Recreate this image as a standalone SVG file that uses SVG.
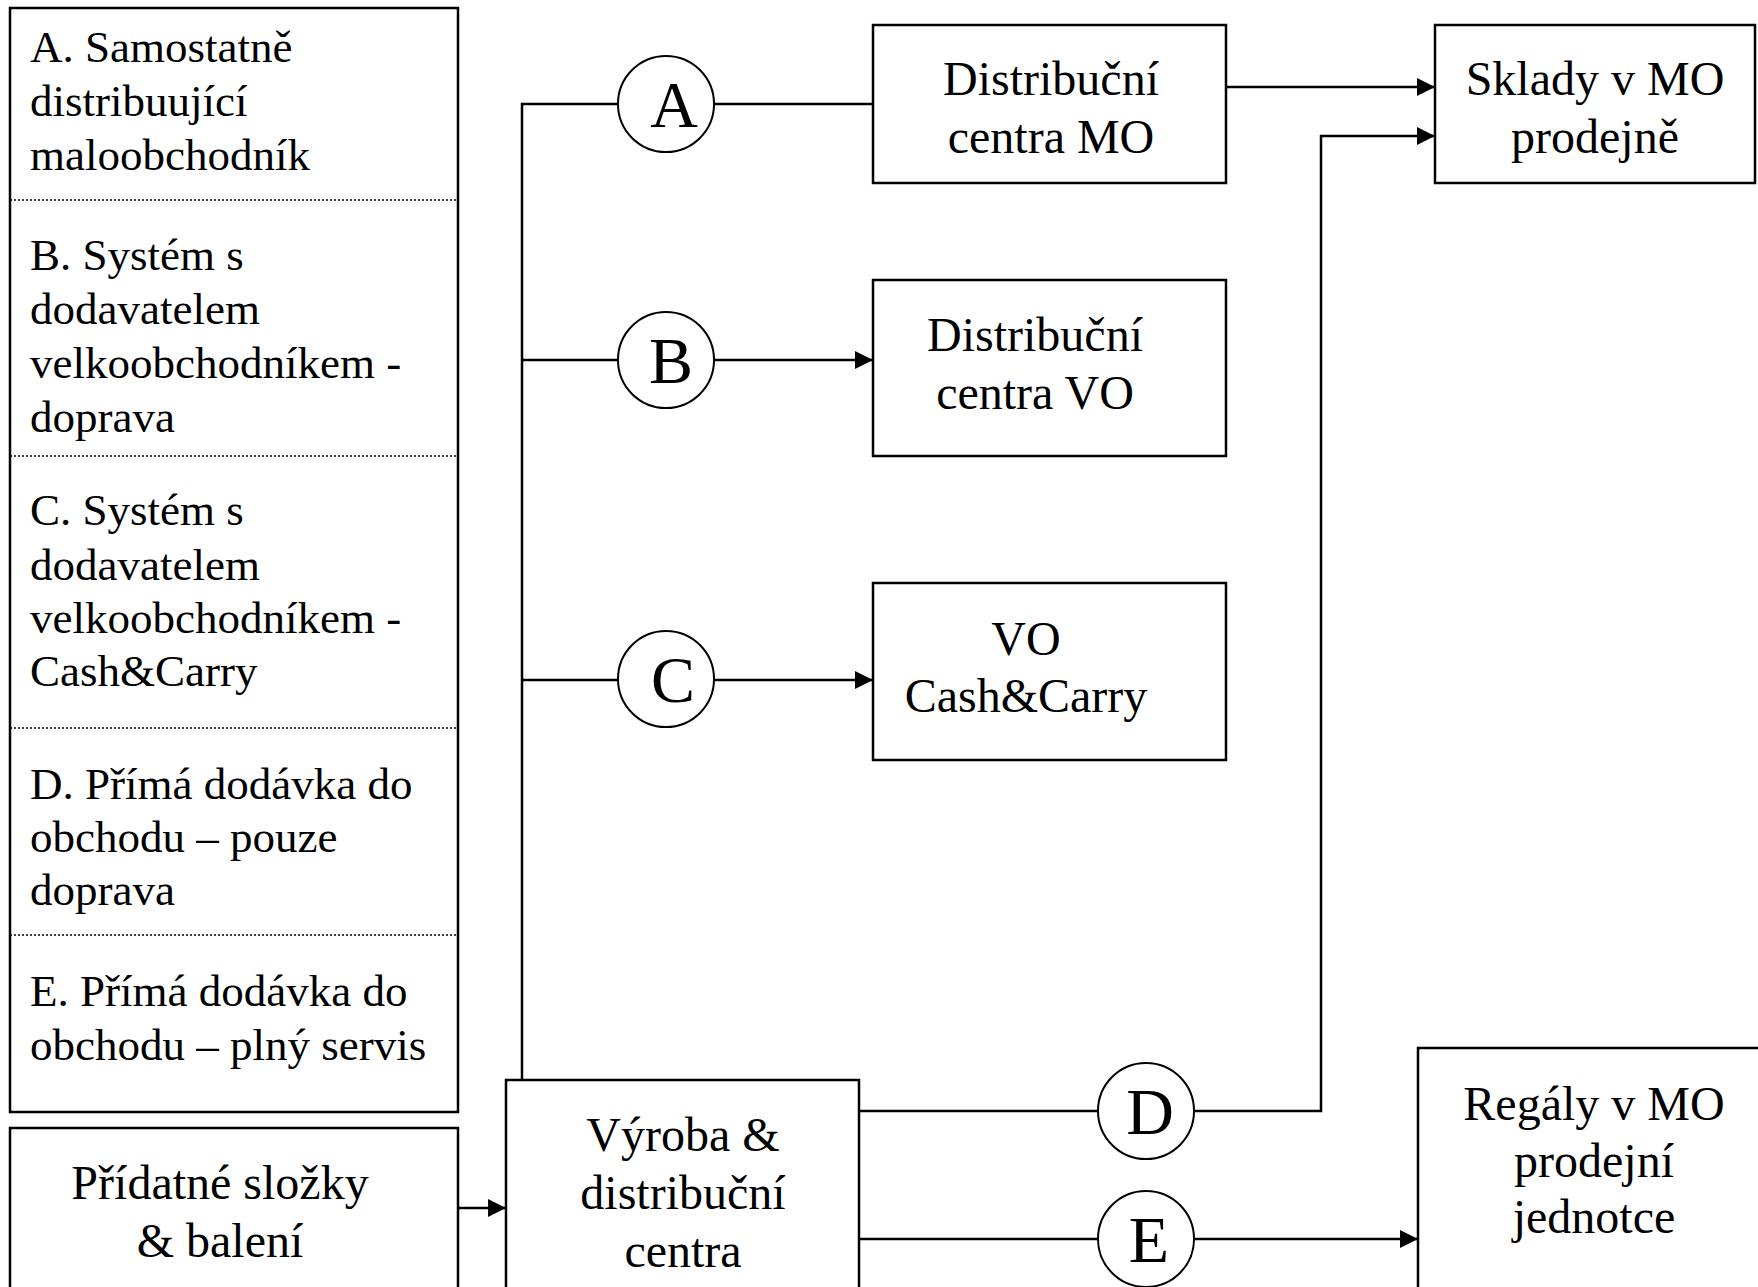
<svg xmlns="http://www.w3.org/2000/svg" width="1758" height="1287" viewBox="0 0 1758 1287">
<defs>
<marker id="arr" viewBox="0 0 18 18" refX="18" refY="9" markerWidth="18" markerHeight="18" markerUnits="userSpaceOnUse" orient="auto">
<path d="M0,0 L18,9 L0,18 Z" fill="#000"/>
</marker>
<style>
text{font-family:"Liberation Serif","Times New Roman",serif;fill:#000}
.lt{font-size:45px}
.bt{font-size:48px;text-anchor:middle}
.ct{font-size:66px;text-anchor:middle}
.box{fill:#fff;stroke:#000;stroke-width:2.5}
.circ{fill:#fff;stroke:#000;stroke-width:2}
.sep{stroke:#000;stroke-width:1.5;stroke-dasharray:2 2;fill:none}
.ln{stroke:#000;stroke-width:2.5;fill:none}
.ar{stroke:#000;stroke-width:2.5;fill:none;marker-end:url(#arr)}
</style>
</defs>
<rect width="1758" height="1287" fill="#fff"/>

<g id="connectors">
<polyline class="ln" points="618,104 522,104 522,1080"/>
<line class="ln" x1="522" y1="360" x2="618" y2="360"/>
<line class="ln" x1="522" y1="680" x2="618" y2="680"/>
<line class="ln" x1="714" y1="104" x2="873" y2="104"/>
<line class="ar" x1="714" y1="360" x2="873" y2="360"/>
<line class="ar" x1="714" y1="680" x2="873" y2="680"/>
<line class="ar" x1="1226" y1="87" x2="1435" y2="87"/>
<line class="ln" x1="859" y1="1111" x2="1098" y2="1111"/>
<polyline class="ar" points="1194,1111 1321,1111 1321,136 1435,136"/>
<line class="ln" x1="859" y1="1239" x2="1098" y2="1239"/>
<line class="ar" x1="1194" y1="1239" x2="1418" y2="1239"/>
<line class="ar" x1="458" y1="1208" x2="506" y2="1208"/>
</g>

<g id="legend">
<rect class="box" x="10" y="8" width="448" height="1104"/>
<line class="sep" x1="10" y1="200" x2="458" y2="200"/>
<line class="sep" x1="10" y1="456" x2="458" y2="456"/>
<line class="sep" x1="10" y1="728" x2="458" y2="728"/>
<line class="sep" x1="10" y1="935" x2="458" y2="935"/>
<text class="lt" x="30" y="62">A. Samostatně</text>
<text class="lt" x="30" y="116">distribuující</text>
<text class="lt" x="30" y="170">maloobchodník</text>
<text class="lt" x="30" y="270">B. Systém s</text>
<text class="lt" x="30" y="324">dodavatelem</text>
<text class="lt" x="30" y="378">velkoobchodníkem -</text>
<text class="lt" x="30" y="432">doprava</text>
<text class="lt" x="30" y="525">C. Systém s</text>
<text class="lt" x="30" y="580">dodavatelem</text>
<text class="lt" x="30" y="633">velkoobchodníkem -</text>
<text class="lt" x="30" y="686">Cash&amp;Carry</text>
<text class="lt" x="30" y="799">D. Přímá dodávka do</text>
<text class="lt" x="30" y="852">obchodu – pouze</text>
<text class="lt" x="30" y="905">doprava</text>
<text class="lt" x="30" y="1006">E. Přímá dodávka do</text>
<text class="lt" x="30" y="1060">obchodu – plný servis</text>
</g>

<g id="pridatne">
<rect class="box" x="10" y="1128" width="448" height="200"/>
<text class="bt" x="220" y="1199">Přídatné složky</text>
<text class="bt" x="220" y="1257">&amp; balení</text>
</g>

<g id="vyroba">
<rect class="box" x="506" y="1080" width="353" height="250"/>
<text class="bt" x="683" y="1151">Výroba &amp;</text>
<text class="bt" x="683" y="1209">distribuční</text>
<text class="bt" x="683" y="1267">centra</text>
</g>

<g id="circleA"><circle class="circ" cx="666" cy="104" r="48"/><text class="ct" x="674" y="127">A</text></g>
<g id="circleB"><circle class="circ" cx="666" cy="360" r="48"/><text class="ct" x="671" y="383">B</text></g>
<g id="circleC"><circle class="circ" cx="666" cy="679" r="48"/><text class="ct" x="673" y="702">C</text></g>
<g id="circleD"><circle class="circ" cx="1146" cy="1111" r="48"/><text class="ct" x="1150" y="1134">D</text></g>
<g id="circleE"><circle class="circ" cx="1146" cy="1239" r="48"/><text class="ct" x="1149" y="1262">E</text></g>

<g id="dcMO">
<rect class="box" x="873" y="25" width="353" height="158"/>
<text class="bt" x="1051" y="95">Distribuční</text>
<text class="bt" x="1051" y="153">centra MO</text>
</g>

<g id="dcVO">
<rect class="box" x="873" y="280" width="353" height="176"/>
<text class="bt" x="1035" y="351">Distribuční</text>
<text class="bt" x="1035" y="409">centra VO</text>
</g>

<g id="voCC">
<rect class="box" x="873" y="583" width="353" height="177"/>
<text class="bt" x="1026" y="655">VO</text>
<text class="bt" x="1026" y="712">Cash&amp;Carry</text>
</g>

<g id="sklady">
<rect class="box" x="1435" y="25" width="320" height="158"/>
<text class="bt" x="1595" y="95">Sklady v MO</text>
<text class="bt" x="1595" y="153">prodejně</text>
</g>

<g id="regaly">
<rect class="box" x="1418" y="1048" width="345" height="300"/>
<text class="bt" x="1594" y="1120">Regály v MO</text>
<text class="bt" x="1594" y="1177">prodejní</text>
<text class="bt" x="1594" y="1233">jednotce</text>
</g>
</svg>
